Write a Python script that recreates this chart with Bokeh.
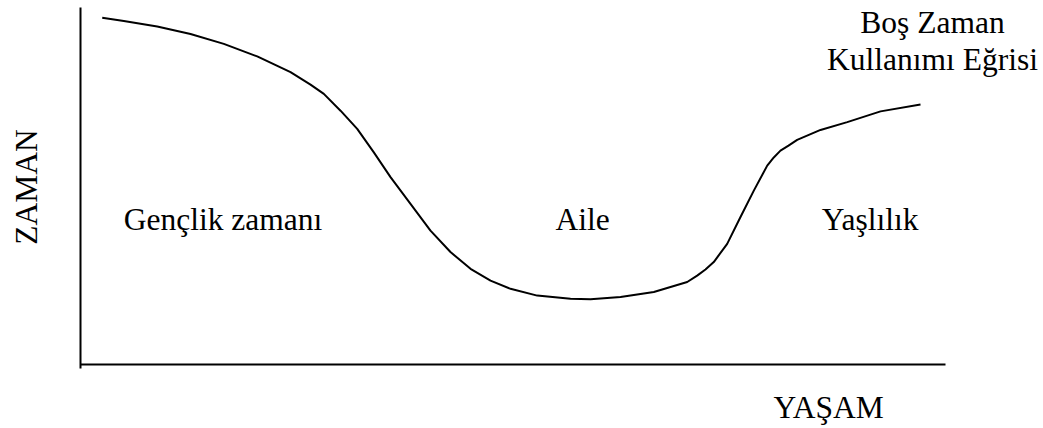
from bokeh.plotting import figure
from bokeh.models import Range1d, Label, ColumnDataSource
from bokeh.embed import file_html
from bokeh.resources import INLINE

# Boş zaman kullanımı eğrisi (life on x, time on y; 0-100 scale)
life = [2.51, 5.01, 8.87, 12.72, 16.57, 20.43, 24.28, 26.59, 28.13, 30.06, 31.99,
        33.91, 35.84, 38.15, 40.46, 42.77, 45.09, 47.40, 49.71, 52.80, 56.65, 58.96,
        62.43, 66.28, 70.14, 71.29, 72.25, 73.21, 74.76, 76.30, 77.84, 79.39, 80.15,
        80.92, 81.85, 82.85, 85.55, 88.64, 92.49, 97.11]
leisure_time = [97.1, 96.2, 94.7, 92.6, 89.8, 86.3, 81.9, 78.4, 75.8, 71.1, 66.0,
                59.4, 52.5, 45.0, 37.5, 31.5, 26.8, 23.5, 21.2, 19.3, 18.4, 18.3,
                18.9, 20.3, 23.1, 24.9, 26.6, 28.7, 33.8, 41.3, 48.7, 55.7, 58.0,
                59.9, 61.3, 62.9, 65.7, 67.9, 70.9, 72.8]

# axis extents (data units)
x_axis_span = [0, 100]
y_axis_span = [-1.1, 100]

stage_names = ["Gençlik zamanı", "Aile", "Yaşlılık"]
stage_x = [5.0, 54.9, 85.7]
stage_y = [40.6, 40.6, 40.6]

curve_title = ["Boş Zaman", "Kullanımı Eğrisi"]
x_title = "YAŞAM"
y_title = "ZAMAN"

FONT = "Liberation Serif"
FS = "31.5px"

p = figure(width=1043, height=428, output_backend="svg", toolbar_location=None,
           x_range=Range1d(-9.249, 111.329), y_range=Range1d(-17.927, 101.961),
           x_axis_type=None, y_axis_type=None, min_border=0,
           min_border_left=0, min_border_right=0, min_border_top=0, min_border_bottom=0)
p.outline_line_color = None
p.grid.visible = False
p.background_fill_color = "white"
p.border_fill_color = "white"

# axis lines
p.segment(x0=[x_axis_span[0], 0], y0=[0, y_axis_span[0]],
          x1=[x_axis_span[1], 0], y1=[0, y_axis_span[1]],
          line_color="black", line_width=2)

src = ColumnDataSource(dict(x=life, y=leisure_time))
p.line("x", "y", source=src, line_color="black", line_width=2, line_join="round")

for name, sx, sy in zip(stage_names, stage_x, stage_y):
    p.add_layout(Label(x=sx, y=sy, text=name, text_font=FONT, text_font_size=FS,
                       text_color="black", text_align="left", text_baseline="alphabetic"))

p.add_layout(Label(x=98.5, y=95.8, text=curve_title[0], text_font=FONT, text_font_size=FS,
                   text_color="black", text_align="center", text_baseline="alphabetic"))
p.add_layout(Label(x=98.5, y=85.3, text=curve_title[1], text_font=FONT, text_font_size=FS,
                   text_color="black", text_align="center", text_baseline="alphabetic"))

p.add_layout(Label(x=86.5, y=-12.0, text=x_title, text_font=FONT, text_font_size=FS,
                   text_color="black", text_align="center", text_baseline="alphabetic"))
p.add_layout(Label(x=-6.24, y=49.7, text=y_title, text_font=FONT, text_font_size=FS,
                   text_color="black", text_align="center", text_baseline="alphabetic",
                   angle=1.5707963))

open("out.html", "w").write(file_html(p, INLINE))
